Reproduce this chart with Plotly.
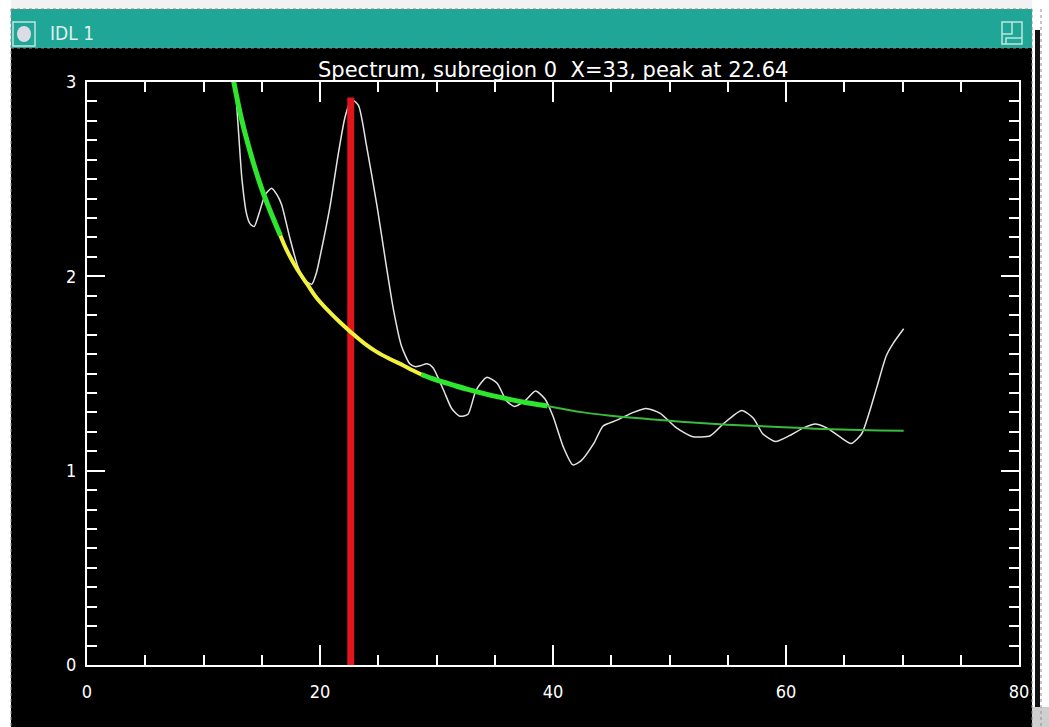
import plotly.graph_objects as go

# ---------------- data ----------------
spec_x = [12.6, 12.8, 13.0, 13.3, 13.7, 14.0, 14.35, 14.8, 15.3, 15.85, 16.3, 16.7,
          17.4, 18.1, 18.7, 19.3, 19.7, 20.0, 20.86, 21.57, 22.15, 22.7, 23.3, 24.0,
          24.9, 25.7, 26.3, 27.0, 27.7, 28.2, 28.6, 29.2, 29.7, 30.6, 31.3, 32.0,
          32.7, 33.4, 34.3, 35.2, 36.0, 36.7, 37.6, 38.5, 39.3, 40.0, 40.9, 41.7,
          42.4, 43.5, 44.3, 45.5, 46.9, 48.0, 49.2, 50.6, 52.0, 53.5, 54.6, 56.2,
          57.2, 58.0, 59.1, 60.3, 61.5, 62.5, 63.5, 64.6, 65.6, 66.5, 67.1, 67.8,
          68.6, 69.2, 70.1]
spec_y = [3.05, 2.92, 2.75, 2.50, 2.32, 2.27, 2.256, 2.33, 2.42, 2.453, 2.42, 2.37,
          2.20, 2.05, 1.98, 1.96, 2.02, 2.10, 2.36, 2.63, 2.82, 2.91, 2.88, 2.67,
          2.36, 2.05, 1.83, 1.64, 1.55, 1.535, 1.54, 1.55, 1.53, 1.415, 1.32, 1.28,
          1.29, 1.415, 1.48, 1.45, 1.36, 1.33, 1.36, 1.41, 1.37, 1.28, 1.12, 1.03,
          1.05, 1.14, 1.23, 1.26, 1.30, 1.32, 1.295, 1.22, 1.175, 1.18, 1.24, 1.31,
          1.27, 1.19, 1.15, 1.18, 1.22, 1.24, 1.22, 1.175, 1.14, 1.19, 1.29, 1.43,
          1.59, 1.655, 1.73]

fit_a_x = [12.5, 13.3, 14.3, 15.0, 15.7, 16.6]
fit_a_y = [3.03, 2.80, 2.58, 2.45, 2.34, 2.21]
fit_b_x = [16.6, 17.1, 18.0, 18.9, 19.7, 20.6, 21.6, 22.7, 23.8, 24.9, 26.0, 27.2, 28.0, 28.7]
fit_b_y = [2.21, 2.14, 2.04, 1.96, 1.89, 1.83, 1.77, 1.71, 1.655, 1.61, 1.575, 1.54, 1.515, 1.495]
fit_c_x = [28.7, 29.6, 30.6, 31.6, 32.6, 34.0, 35.5, 37.0, 38.3, 39.5]
fit_c_y = [1.495, 1.475, 1.455, 1.437, 1.42, 1.398, 1.377, 1.358, 1.344, 1.333]
fit_d_x = [39.5, 42.6, 45.0, 48.3, 51.0, 54.0, 57.0, 59.8, 62.5, 65.5, 68.0, 70.1]
fit_d_y = [1.333, 1.30, 1.283, 1.265, 1.252, 1.24, 1.231, 1.224, 1.216, 1.21, 1.207, 1.205]

peak_x = [22.64, 22.64]
peak_y = [0.0, 2.92]

title_text = "Spectrum, subregion 0  X=33, peak at 22.64"
window_title = "IDL 1"

# ---------------- figure ----------------
W, H = 1049, 727
L, R, T, B = 87, 30, 82, 62
PW, PH = W - L - R, H - T - B


def px(xp):
    return (xp - L) / PW


def py(yp):
    return (H - B - yp) / PH


fig = go.Figure()
fig.add_trace(go.Scatter(x=spec_x, y=spec_y, mode="lines",
                         line=dict(color="#e4e4e4", width=1.5, shape="spline", smoothing=0.6)))
fig.add_trace(go.Scatter(x=peak_x, y=peak_y, mode="lines",
                         line=dict(color="#e0161c", width=7)))
fig.add_trace(go.Scatter(x=fit_d_x, y=fit_d_y, mode="lines",
                         line=dict(color="#3cba3c", width=2, shape="spline")))
fig.add_trace(go.Scatter(x=fit_c_x, y=fit_c_y, mode="lines",
                         line=dict(color="#2ee62e", width=5, shape="spline")))
fig.add_trace(go.Scatter(x=fit_b_x, y=fit_b_y, mode="lines",
                         line=dict(color="#f2f23a", width=4, shape="spline")))
fig.add_trace(go.Scatter(x=fit_a_x, y=fit_a_y, mode="lines",
                         line=dict(color="#2ee62e", width=5, shape="spline")))

axis_common = dict(
    showgrid=False, zeroline=False, showline=True, linecolor="white", linewidth=2,
    mirror="allticks", ticks="inside", tickcolor="white", tickwidth=1.5,
    tickfont=dict(color="white", size=18, family="DejaVu Sans Condensed, DejaVu Sans"),
)
fig.update_xaxes(range=[0, 80], dtick=20, tick0=0, ticklen=20,
                 minor=dict(dtick=5, ticklen=10, ticks="inside", tickcolor="white", tickwidth=1.5),
                 ticklabelstandoff=9, **axis_common)
fig.update_yaxes(range=[0, 3], dtick=1, tick0=0, ticklen=18,
                 minor=dict(dtick=0.1, ticklen=10, ticks="inside", tickcolor="white", tickwidth=1.5),
                 ticklabelstandoff=5, **axis_common)

shapes = []
# top strip (background window)
shapes.append(dict(type="rect", xref="paper", yref="paper", x0=px(0), x1=px(W), y0=py(0), y1=py(9),
                   fillcolor="#f2f2f2", line=dict(width=0)))
# left strip
shapes.append(dict(type="rect", xref="paper", yref="paper", x0=px(0), x1=px(11), y0=py(0), y1=py(H),
                   fillcolor="#ffffff", line=dict(width=0)))
# right strip
shapes.append(dict(type="rect", xref="paper", yref="paper", x0=px(1032), x1=px(W), y0=py(0), y1=py(H),
                   fillcolor="#ffffff", line=dict(width=0)))
shapes.append(dict(type="rect", xref="paper", yref="paper", x0=px(1035), x1=px(1040), y0=py(30), y1=py(707),
                   fillcolor="#111111", line=dict(width=0)))
shapes.append(dict(type="rect", xref="paper", yref="paper", x0=px(1032), x1=px(W), y0=py(707), y1=py(H),
                   fillcolor="#cfcfcf", line=dict(width=0)))
# teal title bar
shapes.append(dict(type="rect", xref="paper", yref="paper", x0=px(11), x1=px(1032), y0=py(9), y1=py(48),
                   fillcolor="#1fa696", line=dict(width=0)))
# dotted borders
for (x0, y0, x1, y1) in [(11, 9, 1032, 9), (11, 48, 1032, 48), (11, 9, 11, H), (1032, 9, 1032, H),
                         (1041, 9, 1041, H)]:
    shapes.append(dict(type="line", xref="paper", yref="paper", x0=px(x0), x1=px(x1), y0=py(y0), y1=py(y1),
                       line=dict(color="#8c8c8c", width=1, dash="dot")))
# icon at left of title bar
shapes.append(dict(type="rect", xref="paper", yref="paper", x0=px(13), x1=px(35), y0=py(22), y1=py(46),
                   fillcolor="rgba(0,0,0,0)", line=dict(color="#bfe6e0", width=1.5)))
shapes.append(dict(type="circle", xref="paper", yref="paper", x0=px(17), x1=px(31), y0=py(26), y1=py(42),
                   fillcolor="#dcdce4", line=dict(width=0)))
# icon at right of title bar
shapes.append(dict(type="rect", xref="paper", yref="paper", x0=px(1002), x1=px(1022), y0=py(22), y1=py(44),
                   fillcolor="rgba(0,0,0,0)", line=dict(color="#bfe6e0", width=1.5)))
shapes.append(dict(type="path", xref="paper", yref="paper",
                   path="M {} {} L {} {} L {} {}".format(px(1002), py(34), px(1012), py(34),
                                                        px(1012), py(22)),
                   line=dict(color="#bfe6e0", width=1.5)))
shapes.append(dict(type="path", xref="paper", yref="paper",
                   path="M {} {} L {} {} L {} {}".format(px(1006), py(44), px(1006), py(38), px(1022), py(38)),
                   line=dict(color="#bfe6e0", width=1.5)))

annotations = [
    dict(text=title_text, xref="paper", yref="paper", x=px(553), y=py(70), showarrow=False,
         xanchor="center", yanchor="middle",
         font=dict(color="white", size=21, family="DejaVu Sans")),
    dict(text=window_title, xref="paper", yref="paper", x=px(48), y=py(33), showarrow=False,
         xanchor="left", yanchor="middle",
         font=dict(color="#dff0ee", size=19, family="DejaVu Sans Condensed, DejaVu Sans")),
]

fig.update_layout(
    width=W, height=H, autosize=False,
    margin=dict(l=L, r=R, t=T, b=B, pad=0),
    paper_bgcolor="#000000", plot_bgcolor="#000000",
    showlegend=False, shapes=shapes, annotations=annotations,
)

fig.write_html("out.html",
               config={"displayModeBar": False},
               post_script="document.body.style.margin='0';document.body.style.padding='0';"
                           "document.documentElement.style.overflow='hidden';")
